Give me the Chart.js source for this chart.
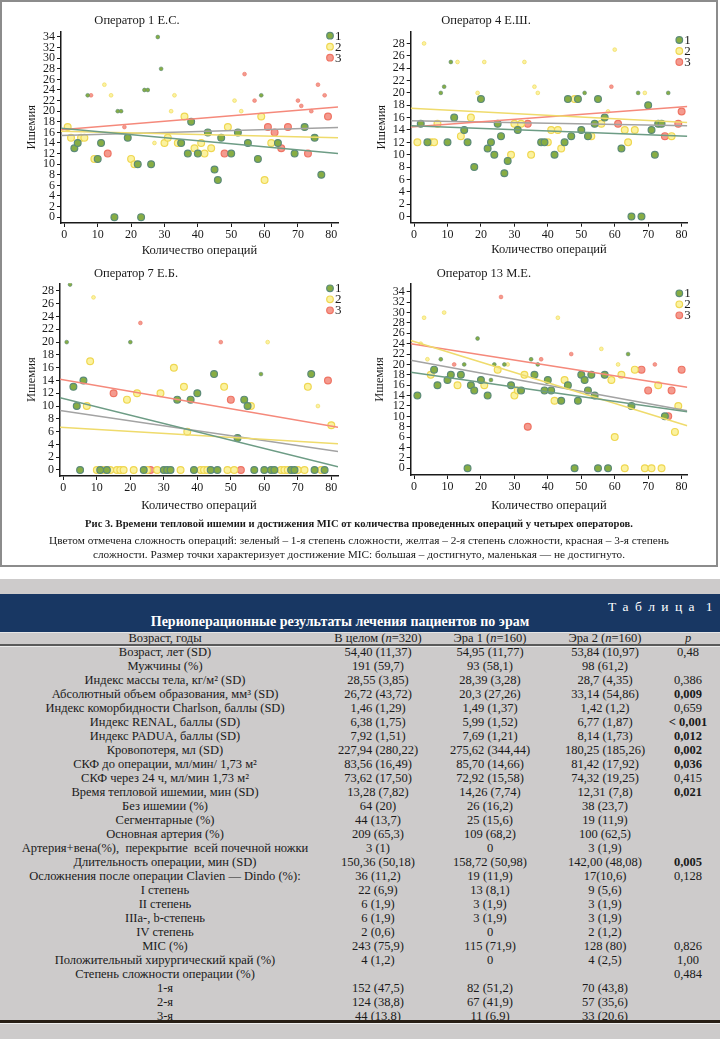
<!DOCTYPE html>
<html>
<head>
<meta charset="utf-8">
<script src="https://cdn.jsdelivr.net/npm/chart.js@4.4.0/dist/chart.umd.min.js"></script>
<style>
    body { margin: 0; width: 720px; height: 1039px; position: relative; overflow: hidden; background: #fff; font-family: "Liberation Serif", "DejaVu Serif", serif; color: #1a1a1a; }
    #fig { position: absolute; left: 0; top: 0; width: 718px; height: 567px; border: 2px solid #8c8c8c; box-sizing: border-box; }
    .box { position: absolute; width: 360px; height: 262px; }
    .ptitle { position: absolute; width: 200px; text-align: center; font-size: 12.5px; line-height: 16px; }
    .cap { position: absolute; left: 0; width: 718px; text-align: center; font-size: 11.3px; line-height: 14px; white-space: nowrap; }
    #tbl { position: absolute; left: 0; top: 579px; width: 720px; height: 460px; background: #cdcbcb; }
    .abs { position: absolute; }
    .cell { position: absolute; text-align: center; white-space: nowrap; font-size: 12.5px; line-height: 14px; height: 14px; }
</style>
</head>
<body>
<div id="fig"></div>
<div class="box" style="left:0;top:0"><canvas id="c1"></canvas></div>
<div class="box" style="left:360px;top:0"><canvas id="c2"></canvas></div>
<div class="box" style="left:0;top:260px"><canvas id="c3"></canvas></div>
<div class="box" style="left:360px;top:260px"><canvas id="c4"></canvas></div>
<div class="ptitle" style="left:37px;top:12px">Оператор 1 Е.С.</div>
<div class="ptitle" style="left:386px;top:12px">Оператор 4 Е.Ш.</div>
<div class="ptitle" style="left:36px;top:265px">Оператор 7 Е.Б.</div>
<div class="ptitle" style="left:384px;top:265px">Оператор 13 М.Е.</div>
<div class="cap" style="top:517px;font-weight:bold;font-size:10.6px">Рис 3. Времени тепловой ишемии и достижения MIC от количества проведенных операций у четырех операторов.</div>
<div class="cap" style="top:533px">Цветом отмечена сложность операций: зеленый – 1-я степень сложности, желтая – 2-я степень сложности, красная – 3-я степень</div>
<div class="cap" style="top:547px">сложности. Размер точки характеризует достижение MIC: большая – достигнуто, маленькая — не достигнуто.</div>
<div id="tbl"></div>
<script>
// ---------- данные графиков ----------
var xTicks = [0, 10, 20, 30, 40, 50, 60, 70, 80];
var yTicks34 = [0, 2, 4, 6, 8, 10, 12, 14, 16, 18, 20, 22, 24, 26, 28, 30, 32, 34];
var yTicks28 = [0, 2, 4, 6, 8, 10, 12, 14, 16, 18, 20, 22, 24, 26, 28];
var groupLabels = ['1', '2', '3'];

// Оператор 1 Е.С.  (Mic = большая точка, No = маленькая)
var op1GreenMic = [[3,13],[4,14],[10,11],[11,14],[15,0],[19,15],[22,10],[23,0],[26,10],[35,14],[37,12],[38,18],[40,12],[43,16],[45,9],[46,7],[47,15],[50,12],[52,16],[55,14],[58,11],[64,14],[69,12],[72,17],[75,15],[77,8]];
var op1GreenNo = [[7,23],[16,20],[17,20],[24,24],[25,24],[28,34],[29,28],[59,23]];
var op1YellowMic = [[1,17],[2,15],[5,15],[6,15],[9,11],[20,11],[21,10],[30,14],[31,15],[34,14],[36,19],[39,13],[41,14],[42,12],[44,13],[49,17],[59,19],[60,7],[62,14]];
var op1YellowNo = [[12,25],[14,23],[27,14],[32,20],[33,23],[51,22],[53,20]];
var op1RedMic = [[13,12],[48,12],[61,17],[63,16],[65,13],[67,17],[73,12],[79,19]];
var op1RedNo = [[8,23],[18,17],[54,27],[57,22],[70,22],[71,21],[74,20],[76,25],[78,23]];
var op1FitGreen = [[-1,16.8],[82,12.0]];
var op1FitYellow = [[-1,16.2],[82,15.0]];
var op1FitRed = [[-1,16.5],[82,20.8]];
var op1FitAll = [[-1,15.4],[82,16.9]];

// Оператор 4 Е.Ш.
var op4GreenMic = [[2,15],[4,12],[10,12],[12,16],[15,14],[16,12],[18,8],[20,19],[22,11],[23,12],[24,10],[25,15],[26,13],[27,7],[28,9],[31,14],[38,12],[39,12],[42,10],[45,12],[46,19],[47,13],[49,19],[50,14],[52,13],[54,15],[55,19],[57,16],[62,11],[65,0],[68,0],[70,18],[71,14],[72,10],[73,15],[74,15]];
var op4GreenNo = [[8,20],[9,21],[11,25],[51,20],[67,20],[76,20]];
var op4YellowMic = [[1,12],[5,12],[6,12],[7,15],[14,13],[17,16],[29,10],[30,15],[32,15],[35,10],[40,12],[41,14],[43,14],[44,11],[48,19],[53,13],[56,15],[63,14],[64,12],[66,14],[77,13]];
var op4YellowNo = [[3,28],[13,25],[19,20],[21,25],[33,25],[36,21],[37,20],[58,17],[60,27],[69,20]];
var op4RedMic = [[34,15],[61,15],[75,13],[79,15],[80,17]];
var op4RedNo = [[59,21]];
var op4FitGreen = [[-1,14.7],[81.7,13.0]];
var op4FitYellow = [[-1,17.5],[81.7,15.2]];
var op4FitRed = [[-1,14.5],[81.7,17.8]];
var op4FitAll = [[-1,15.5],[81.7,14.7]];

// Оператор 7 Е.Б.
var op7GreenMic = [[3,13],[4,10],[5,0],[6,14],[11,0],[13,0],[24,0],[30,0],[31,0],[32,0],[34,11],[38,11],[39,0],[40,12],[44,0],[45,15],[46,0],[52,5],[54,11],[55,10],[57,0],[60,0],[62,0],[63,0],[68,0],[69,0],[74,15],[75,0],[78,0]];
var op7GreenNo = [[1,20],[2,29],[20,20],[59,15]];
var op7YellowMic = [[7,10],[8,17],[10,0],[12,0],[14,0],[16,0],[17,0],[18,0],[19,11],[21,0],[22,12],[25,0],[28,0],[29,12],[33,16],[35,0],[36,13],[37,6],[41,0],[42,0],[43,0],[48,13],[49,0],[51,0],[56,10],[65,0],[66,0],[67,0],[70,0],[72,0],[73,13],[77,0],[80,7]];
var op7YellowNo = [[9,27],[61,20],[76,10]];
var op7RedMic = [[15,12],[26,0],[50,11],[53,0],[79,14]];
var op7RedNo = [[23,23],[47,20],[71,0]];
var op7FitGreen = [[-1,11.3],[82,0.5]];
var op7FitYellow = [[-1,6.7],[82,4.1]];
var op7FitRed = [[-1,14.2],[82,6.7]];
var op7FitAll = [[-1,9.3],[82,2.9]];

// Оператор 13 М.Е.
var op13GreenMic = [[1,14],[6,19],[7,16],[10,17],[11,18],[14,18],[16,0],[17,16],[18,15],[20,17],[22,14],[29,16],[32,15],[36,18],[39,15],[40,17],[41,15],[44,13],[46,16],[48,0],[49,13],[50,18],[51,17],[52,15],[53,18],[54,14],[55,0],[57,18],[58,0],[65,12],[75,10]];
var op13GreenNo = [[8,21],[15,20],[19,25],[23,17],[24,20],[27,20],[35,21],[37,20],[64,22]];
var op13YellowMic = [[5,18],[13,16],[21,16],[25,19],[30,14],[31,15],[33,18],[42,13],[45,17],[59,17],[60,6],[62,18],[63,0],[66,19],[69,0],[71,0],[73,16],[74,0],[78,7],[79,12]];
var op13YellowNo = [[2,24],[3,29],[4,21],[9,30],[28,20],[43,29],[56,23],[61,20]];
var op13RedMic = [[34,8],[68,19],[70,15],[76,10],[77,15],[80,19]];
var op13RedNo = [[12,20],[26,33],[38,21],[47,22],[72,20]];
var op13FitGreen = [[-1,18.5],[81.7,10.9]];
var op13FitYellow = [[-1,24.6],[81.7,8.2]];
var op13FitRed = [[-1,24.0],[81.7,15.6]];
var op13FitAll = [[-1,20.8],[81.7,11.1]];

// ---------- данные таблицы ----------
var tableHead = ['Возраст, годы', 'В целом (<i>n</i>=320)', 'Эра 1 (<i>n</i>=160)', 'Эра 2 (<i>n</i>=160)', '<i>p</i>'];
var tableLabels = ['Возраст, лет (SD)', 'Мужчины (%)', 'Индекс массы тела, кг/м² (SD)', 'Абсолютный объем образования, мм³ (SD)',
    'Индекс коморбидности Charlson, баллы (SD)', 'Индекс RENAL, баллы (SD)', 'Индекс PADUA, баллы (SD)', 'Кровопотеря, мл (SD)',
    'СКФ до операции, мл/мин/ 1,73 м²', 'СКФ через 24 ч, мл/мин 1,73 м²', 'Время тепловой ишемии, мин (SD)', 'Без ишемии (%)',
    'Сегментарные (%)', 'Основная артерия (%)', 'Артерия+вена(%),&nbsp; перекрытие&nbsp; всей почечной ножки', 'Длительность операции, мин (SD)',
    'Осложнения после операции Clavien — Dindo (%):', 'I степень', 'II степень', 'IIIa-, b-степень', 'IV степень', 'MIC (%)',
    'Положительный хирургический край (%)', 'Степень сложности операции (%)', '1-я', '2-я', '3-я'];
var tableTotal = ['54,40 (11,37)', '191 (59,7)', '28,55 (3,85)', '26,72 (43,72)', '1,46 (1,29)', '6,38 (1,75)', '7,92 (1,51)', '227,94 (280,22)',
    '83,56 (16,49)', '73,62 (17,50)', '13,28 (7,82)', '64 (20)', '44 (13,7)', '209 (65,3)', '3 (1)', '150,36 (50,18)', '36 (11,2)',
    '22 (6,9)', '6 (1,9)', '6 (1,9)', '2 (0,6)', '243 (75,9)', '4 (1,2)', '', '152 (47,5)', '124 (38,8)', '44 (13,8)'];
var tableEra1 = ['54,95 (11,77)', '93 (58,1)', '28,39 (3,28)', '20,3 (27,26)', '1,49 (1,37)', '5,99 (1,52)', '7,69 (1,21)', '275,62 (344,44)',
    '85,70 (14,66)', '72,92 (15,58)', '14,26 (7,74)', '26 (16,2)', '25 (15,6)', '109 (68,2)', '0', '158,72 (50,98)', '19 (11,9)',
    '13 (8,1)', '3 (1,9)', '3 (1,9)', '0', '115 (71,9)', '0', '', '82 (51,2)', '67 (41,9)', '11 (6,9)'];
var tableEra2 = ['53,84 (10,97)', '98 (61,2)', '28,7 (4,35)', '33,14 (54,86)', '1,42 (1,2)', '6,77 (1,87)', '8,14 (1,73)', '180,25 (185,26)',
    '81,42 (17,92)', '74,32 (19,25)', '12,31 (7,8)', '38 (23,7)', '19 (11,9)', '100 (62,5)', '3 (1,9)', '142,00 (48,08)', '17(10,6)',
    '9 (5,6)', '3 (1,9)', '3 (1,9)', '2 (1,2)', '128 (80)', '4 (2,5)', '', '70 (43,8)', '57 (35,6)', '33 (20,6)'];
var tableP = ['0,48', '', '0,386', '0,009', '0,659', '< 0,001', '0,012', '0,002', '0,036', '0,415', '0,021', '', '', '', '', '0,005', '0,128',
    '', '', '', '', '0,826', '1,00', '0,484', '', '', ''];
var tablePBold = ['0,009', '< 0,001', '0,012', '0,002', '0,036', '0,021', '0,005'];

// ---------- стили ----------
var fills = ['#87ad43', '#fbf29f', '#f49a8e'];
var edges = ['#5c8b78', '#efd752', '#ef7464'];
var fitColors = ['#6d9c85', '#efdb6c', '#f5897b', '#a3a3a3'];

Chart.defaults.font.family = '"Liberation Serif", serif';
Chart.defaults.color = '#1a1a1a';

var miniLegend = {
    id: 'miniLegend',
    afterDatasetsDraw: function(chart, args, opts) {
        var ctx = chart.ctx;
        var area = chart.chartArea;
        ctx.save();
        ctx.font = '13px "Liberation Serif"';
        ctx.textBaseline = 'middle';
        groupLabels.forEach(function(lab, i) {
            var x = area.right - 8;
            var y = area.top + opts.top + i * 11;
            ctx.beginPath();
            ctx.arc(x, y, 3.3, 0, Math.PI * 2);
            ctx.fillStyle = fills[i];
            ctx.fill();
            ctx.lineWidth = 1.2;
            ctx.strokeStyle = edges[i];
            ctx.stroke();
            ctx.fillStyle = '#1a1a1a';
            ctx.fillText(lab, x + 5, y + 0.5);
        });
        ctx.restore();
    }
};

function pts(arr) {
    return arr.map(function(p) { return {x: p[0], y: p[1]}; });
}

function makeChart(id, groups, fits, yTicks, lay) {
    var datasets = [];
    fits.forEach(function(f, i) {
        datasets.push({data: pts(f), showLine: true, borderColor: fitColors[i], borderWidth: 1.5, pointRadius: 0, order: 0});
    });
    groups.forEach(function(g, i) {
        datasets.push({data: pts(g[0]), backgroundColor: fills[i], borderColor: edges[i], borderWidth: 1.2, pointRadius: 3.4, order: 1});
        datasets.push({data: pts(g[1]), backgroundColor: fills[i], borderColor: edges[i], borderWidth: 0.6, pointRadius: 1.9, order: 1});
    });
    var axisCommon = {
        grid: {drawOnChartArea: false, drawTicks: true, tickLength: 4, color: '#1a1a1a', lineWidth: 1},
        border: {display: true, color: '#1a1a1a', width: 1.5}
    };
    return new Chart(document.getElementById(id), {
        type: 'scatter',
        data: {datasets: datasets},
        options: {
            animation: false,
            responsive: true,
            maintainAspectRatio: false,
            layout: {padding: lay.pad},
            plugins: {legend: {display: false}, tooltip: {enabled: false}, miniLegend: {top: lay.legTop}},
            scales: {
                x: {
                    type: 'linear', min: lay.xMin, max: lay.xMax,
                    grid: axisCommon.grid, border: axisCommon.border,
                    afterBuildTicks: function(s) { s.ticks = xTicks.map(function(v) { return {value: v}; }); },
                    afterFit: function(s) { s.height = lay.xH; },
                    ticks: {padding: 1, autoSkip: false, maxRotation: 0, font: {size: 12}, color: '#1a1a1a'},
                    title: {display: true, text: 'Количество операций', padding: 0, font: {size: 12.5}, color: '#1a1a1a'}
                },
                y: {
                    type: 'linear', min: lay.yMin, max: lay.yMax,
                    grid: axisCommon.grid, border: axisCommon.border,
                    afterBuildTicks: function(s) { s.ticks = yTicks.map(function(v) { return {value: v}; }); },
                    afterFit: function(s) { s.width = lay.yW; },
                    ticks: {padding: 2, autoSkip: false, font: {size: 12}, color: '#1a1a1a'},
                    title: {display: true, text: 'Ишемия', padding: 0, font: {size: 12.5}, color: '#1a1a1a'}
                }
            }
        },
        plugins: [miniLegend]
    });
}

makeChart('c1',
    [[op1GreenMic, op1GreenNo], [op1YellowMic, op1YellowNo], [op1RedMic, op1RedNo]],
    [op1FitGreen, op1FitYellow, op1FitRed, op1FitAll], yTicks34,
    {pad: {left: 24, right: 22, top: 31.7, bottom: 4.2}, yW: 37, xH: 34.8, xMin: -1, xMax: 82, yMin: -1.1, yMax: 35, legTop: 4});
makeChart('c2',
    [[op4GreenMic, op4GreenNo], [op4YellowMic, op4YellowNo], [op4RedMic, op4RedNo]],
    [op4FitGreen, op4FitYellow, op4FitRed, op4FitAll], yTicks28,
    {pad: {left: 13.9, right: 32.7, top: 31.7, bottom: 4.5}, yW: 36.8, xH: 34.8, xMin: -1, xMax: 81.7, yMin: -1, yMax: 29.9, legTop: 8.3});
makeChart('c3',
    [[op7GreenMic, op7GreenNo], [op7YellowMic, op7YellowNo], [op7RedMic, op7RedNo]],
    [op7FitGreen, op7FitYellow, op7FitRed, op7FitAll], yTicks28,
    {pad: {left: 24.2, right: 22, top: 23.3, bottom: 9.2}, yW: 35.8, xH: 36.8, xMin: -1, xMax: 82, yMin: -0.94, yMax: 29.2, legTop: 5});
makeChart('c4',
    [[op13GreenMic, op13GreenNo], [op13YellowMic, op13YellowNo], [op13RedMic, op13RedNo]],
    [op13FitGreen, op13FitYellow, op13FitRed, op13FitAll], yTicks34,
    {pad: {left: 12.2, right: 32.7, top: 24, bottom: 9.2}, yW: 38.5, xH: 37.8, xMin: -1, xMax: 81.7, yMin: -1.3, yMax: 35.5, legTop: 9.3});

// ---------- таблица ----------
var tbl = document.getElementById('tbl');
var colCenters = [165, 378, 490, 605, 688];
var colWidths = [340, 110, 110, 110, 70];

function addDiv(style, html) {
    var d = document.createElement('div');
    d.className = 'abs';
    d.setAttribute('style', style);
    d.innerHTML = html || '';
    tbl.appendChild(d);
    return d;
}

function addRow(cells, centerY, boldP) {
    cells.forEach(function(txt, c) {
        var d = addDiv('left:' + (colCenters[c] - colWidths[c] / 2) + 'px;top:' + (centerY - 7 - 579) + 'px;width:' + colWidths[c] + 'px', txt);
        d.className = 'cell';
        if (c === 4 && boldP) d.style.fontWeight = 'bold';
    });
}

addDiv('left:0;top:15px;width:720px;height:38px;background:#183763');
addDiv('right:6px;top:20px;color:#fff;font-size:13.5px;line-height:16px;letter-spacing:1.5px;white-space:nowrap', 'Т а б л и ц а &nbsp;1');
addDiv('left:90px;top:35px;width:500px;text-align:center;color:#fff;font-size:14px;font-weight:bold;line-height:16px;white-space:nowrap', 'Периоперационные результаты лечения пациентов по эрам');
addDiv('left:0;top:53px;width:720px;height:1px;background:#e6e6e6');
addRow(tableHead, 637.5, false);
addDiv('left:0;top:65px;width:720px;height:2px;background:#5a5a5a');
addDiv('left:0;top:67px;width:720px;height:1px;background:#ececec');
tableLabels.forEach(function(lab, i) {
    var cy = 652 + i * 14.0;
    addRow([lab, tableTotal[i], tableEra1[i], tableEra2[i], tableP[i]], cy, tablePBold.indexOf(tableP[i]) >= 0);
});
addDiv('left:0;top:441px;width:720px;height:3px;background:#271e15');
addDiv('left:0;top:444px;width:720px;height:1px;background:#eeeeee');
</script>
</body>
</html>
